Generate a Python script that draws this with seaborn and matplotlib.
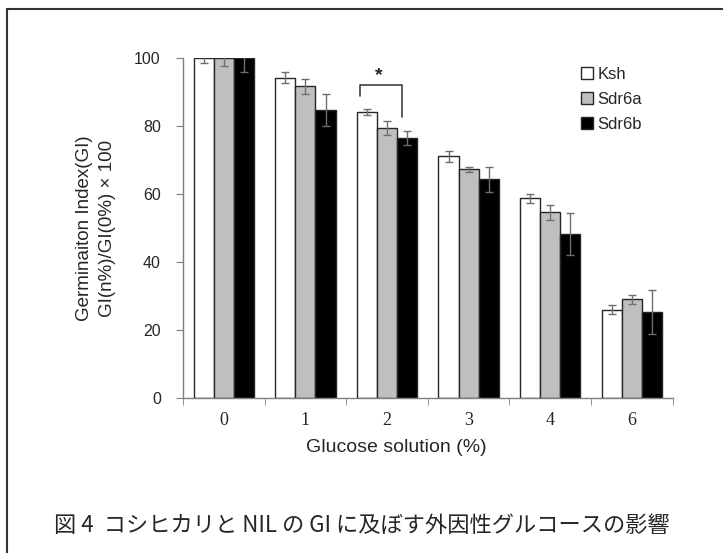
import pandas as pd
import matplotlib.pyplot as plt
import seaborn as sns
from matplotlib.lines import Line2D

# glucose concentration groups and lines
glucose = ['0', '1', '2', '3', '4', '6']
lines = ['Ksh', 'Sdr6a', 'Sdr6b']

# germination index
ksh = [100, 94.3, 84.1, 71.1, 58.8, 26.0]
sdr6a = [100, 91.7, 79.4, 67.3, 54.7, 29.0]
sdr6b = [100, 84.8, 76.5, 64.4, 48.2, 25.3]

# error bar half lengths
ksh_sd = [1.3, 1.7, 0.9, 1.7, 1.3, 1.4]
sdr6a_sd = [2.3, 2.2, 2.0, 0.7, 2.2, 1.2]
sdr6b_sd = [4.0, 4.8, 2.1, 3.7, 6.2, 6.5]

df = pd.DataFrame({
    'glucose': glucose * 3,
    'line': [l for l in lines for _ in glucose],
    'gi': ksh + sdr6a + sdr6b,
})
sds = [ksh_sd, sdr6a_sd, sdr6b_sd]

sns.set_style('white')
plt.rcParams['font.family'] = ['Liberation Sans', 'DejaVu Sans']

fig = plt.figure(figsize=(7.23, 5.53), dpi=100)
ax = fig.add_axes([0.2531, 0.2803, 0.6773, 0.6143])

sns.barplot(data=df, x='glucose', y='gi', hue='line', order=glucose,
            hue_order=lines, palette=['white', '#bfbfbf', 'black'],
            width=0.74, errorbar=None, edgecolor='#262626', linewidth=1.0,
            saturation=1, ax=ax)

# error bars from the bar positions
for cont, sd in zip(ax.containers, sds):
    xs = [p.get_x() + p.get_width() / 2 for p in cont.patches]
    hs = [p.get_height() for p in cont.patches]
    ax.errorbar(xs, hs, yerr=sd, fmt='none', ecolor='#6e6e6e',
                elinewidth=1.0, capsize=3, capthick=1.0, zorder=5)

ax.set_xlim(-0.5, 5.5)
ax.set_ylim(0, 100)
ax.set_yticks([0, 20, 40, 60, 80, 100])
ax.set_xlabel('')
ax.set_ylabel('Germinaiton Index(GI)\nGI(n%)/GI(0%) × 100', fontsize=13.5,
              labelpad=13, linespacing=1.5)
ax.tick_params(axis='y', which='major', direction='out', length=5,
               color='#7f7f7f', labelsize=11.5, left=True, pad=11)
ax.tick_params(axis='x', which='major', length=0, pad=10)
ax.set_xticks([i - 0.5 for i in range(7)], minor=True)
ax.tick_params(axis='x', which='minor', direction='out', length=5,
               color='#7f7f7f', bottom=True)
for lab in ax.get_xticklabels():
    lab.set_fontfamily('Liberation Serif')
    lab.set_fontsize(13)

for s in ['top', 'right']:
    ax.spines[s].set_visible(False)
for s in ['left', 'bottom']:
    ax.spines[s].set_color('#7f7f7f')
    ax.spines[s].set_linewidth(1.0)

# significance bracket
ax.plot([1.67, 1.67, 2.18, 2.18], [89, 92, 92, 82.6], color='#404040',
        lw=1.2, zorder=6)
ax.text(1.9, 95.0, '*', ha='center', va='center', fontsize=14,
        fontweight='bold')

handles, labels = ax.get_legend_handles_labels()
ax.legend(handles, labels, loc='upper left', bbox_to_anchor=(0.80, 0.995),
          frameon=False, fontsize=12, handlelength=0.7, handleheight=0.7,
          handletextpad=0.25, labelspacing=0.6, borderaxespad=0.0)

fig.text(396 / 723, 1 - 448 / 553, 'Glucose solution (%)', ha='center',
         va='center', fontsize=14)
fig.text(362 / 723, 1 - 525 / 553,
         '図 4  コシヒカリと NIL の GI に及ぼす外因性グルコースの影響',
         ha='center', va='center', fontsize=16,
         family=['Noto Sans CJK JP', 'DejaVu Sans'])

# outer frame (only top and left edges are inside the picture)
fig.add_artist(Line2D([0.009, 0.009], [0.0, 0.983], color='#333333', lw=1.5,
                      transform=fig.transFigure))
fig.add_artist(Line2D([0.009, 1.0], [0.983, 0.983], color='#333333', lw=1.5,
                      transform=fig.transFigure))

fig.savefig('out.png', dpi=100)
